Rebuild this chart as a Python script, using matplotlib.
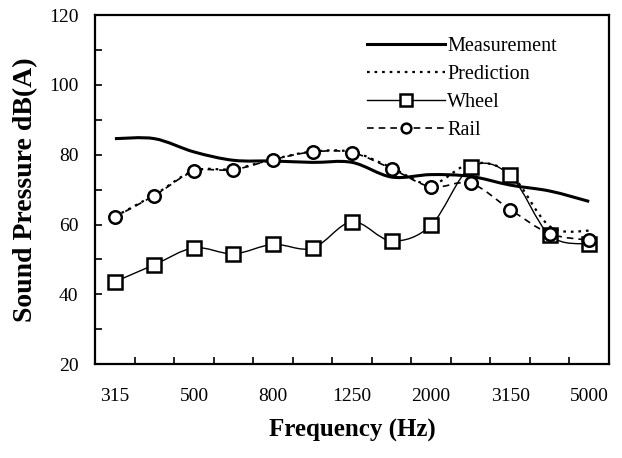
import numpy as np
import matplotlib
matplotlib.use("Agg")
import matplotlib.pyplot as plt
from matplotlib.path import Path
from matplotlib.patches import PathPatch
from matplotlib.lines import Line2D

plt.rcParams['font.family'] = ['Liberation Serif', 'DejaVu Serif']

# 1/3 octave bands (Hz)
bands = ["315", "400", "500", "630", "800", "1000", "1250",
         "1600", "2000", "2500", "3150", "4000", "5000"]
measurement = [84.6, 84.6, 80.8, 78.4, 78.2, 77.8, 77.8, 73.6, 74.3, 73.8, 71.3, 69.6, 66.6]
prediction = [62.3, 68.5, 75.4, 75.9, 78.7, 80.9, 80.8, 76.3, 71.5, 77.5, 74.6, 59.5, 58.2]
wheel = [43.6, 48.5, 53.3, 51.6, 54.3, 53.2, 60.8, 55.3, 59.8, 76.4, 74.1, 56.9, 54.4]
rail = [62.2, 68.3, 75.2, 75.7, 78.6, 80.8, 80.6, 76.0, 70.8, 71.8, 64.3, 57.4, 55.5]


def smooth_path(y):
    # Excel-style smoothed line: cubic bezier through the data points
    x = np.arange(len(y), dtype=float)
    y = np.asarray(y, dtype=float)
    verts = [(x[0], y[0])]
    codes = [Path.MOVETO]
    n = len(x)
    for i in range(n - 1):
        x0, y0 = (x[i - 1], y[i - 1]) if i > 0 else (x[i], y[i])
        x3, y3 = (x[i + 2], y[i + 2]) if i + 2 < n else (x[i + 1], y[i + 1])
        c1 = (x[i] + (x[i + 1] - x0) / 6, y[i] + (y[i + 1] - y0) / 6)
        c2 = (x[i + 1] - (x3 - x[i]) / 6, y[i + 1] - (y3 - y[i]) / 6)
        verts += [c1, c2, (x[i + 1], y[i + 1])]
        codes += [Path.CURVE4] * 3
    return Path(verts, codes)


fig = plt.figure(figsize=(6.22, 4.58), dpi=100)
ax = fig.add_axes([0.153, 0.205, 0.826, 0.762])

xs = np.arange(len(bands))

ax.add_patch(PathPatch(smooth_path(measurement), fill=False, lw=2.2, color='black', zorder=3))
ax.add_patch(PathPatch(smooth_path(prediction), fill=False, lw=1.6, color='black',
                       linestyle=(0, (1.2, 2.2)), zorder=3))
ax.add_patch(PathPatch(smooth_path(wheel), fill=False, lw=1.0, color='black', zorder=3))
ax.add_patch(PathPatch(smooth_path(rail), fill=False, lw=1.2, color='black',
                       linestyle=(0, (4, 3)), zorder=3))

ax.plot(xs, wheel, ls='none', marker='s', ms=10.5, mfc='white', mec='black', mew=1.8, zorder=4)
ax.plot(xs, rail, ls='none', marker='o', ms=9, mfc='white', mec='black', mew=1.8, zorder=4)

ax.set_xlim(-0.5, len(bands) - 0.5)
ax.set_ylim(20, 120)

# y ticks: labels every 20, marks every 10, inside
ax.set_yticks(np.arange(20, 121, 20))
ax.set_yticks(np.arange(30, 120, 20), minor=True)
ax.tick_params(axis='y', which='both', direction='in', length=5, width=1.2,
               labelsize=14, pad=12)

# x: labels every other band, tick marks between bands
ax.set_xticks(xs[::2])
ax.set_xticklabels(bands[::2])
ax.set_xticks(xs[:-1] + 0.5, minor=True)
ax.tick_params(axis='x', which='major', length=0, labelsize=14, pad=17)
ax.tick_params(axis='x', which='minor', direction='in', length=5, width=1.2)

for s in ax.spines.values():
    s.set_linewidth(1.6)

ax.set_xlabel("Frequency (Hz)", fontsize=18, fontweight='bold', labelpad=10)
ax.set_ylabel("Sound Pressure dB(A)", fontsize=20, fontweight='bold', labelpad=8)

handles = [
    Line2D([], [], color='black', lw=2.2),
    Line2D([], [], color='black', lw=1.6, linestyle=(0, (1.2, 2.2))),
    Line2D([], [], color='black', lw=1.0, marker='s', ms=8, mfc='white', mew=1.8),
    Line2D([], [], color='black', lw=1.2, linestyle=(0, (4, 3)), marker='o', ms=7,
           mfc='white', mew=1.8),
]
ax.legend(handles, ["Measurement", "Prediction", "Wheel", "Rail"], loc='upper right',
          bbox_to_anchor=(0.93, 0.985), frameon=False, fontsize=14.5, handlelength=3.9,
          handletextpad=0.1, labelspacing=0.45, borderpad=0.3)

fig.savefig("out.png", dpi=100)
